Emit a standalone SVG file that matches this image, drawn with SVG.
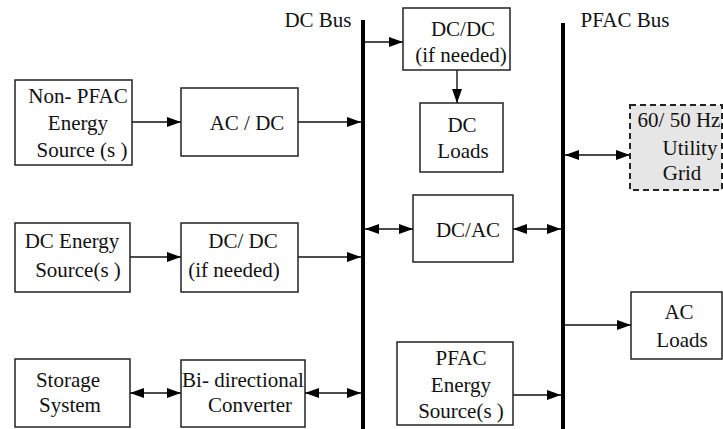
<svg xmlns="http://www.w3.org/2000/svg" width="723" height="429" viewBox="0 0 723 429">
<style>
.box{fill:#fff;stroke:#222;stroke-width:1.5}
.grid{fill:#e6e6e6;stroke:#222;stroke-width:2;stroke-dasharray:6 4}
.bus{stroke:#000;stroke-width:4;fill:none}
.c{stroke:#111;stroke-width:1.4;fill:none}
text{font-family:"Liberation Serif","DejaVu Serif",serif;font-size:21px;fill:#111;text-anchor:middle}
</style>
<defs>
<marker id="ah" markerWidth="14" markerHeight="11" refX="14" refY="5.5" orient="auto-start-reverse" markerUnits="userSpaceOnUse">
<path d="M0,0.5 L14,5.5 L0,10.5 z" fill="#000"/>
</marker>
</defs>
<g id="buses">
<line class="bus" x1="363" y1="20" x2="363" y2="429"/>
<line class="bus" x1="563" y1="23" x2="563" y2="429"/>
<text x="318" y="27">DC Bus</text>
<text x="625" y="27">PFAC Bus</text>
</g>
<g id="connectors">
<path class="c" d="M132,122 H181" marker-end="url(#ah)"/>
<path class="c" d="M298,122 H361" marker-end="url(#ah)"/>
<path class="c" d="M365,42 H403" marker-end="url(#ah)"/>
<path class="c" d="M457,70 V103" marker-end="url(#ah)"/>
<path class="c" d="M565,155 H630" marker-start="url(#ah)" marker-end="url(#ah)"/>
<path class="c" d="M365,229 H413" marker-start="url(#ah)" marker-end="url(#ah)"/>
<path class="c" d="M513,229 H561" marker-start="url(#ah)" marker-end="url(#ah)"/>
<path class="c" d="M565,325 H631" marker-end="url(#ah)"/>
<path class="c" d="M513,395 H561" marker-end="url(#ah)"/>
<path class="c" d="M130,257 H181" marker-end="url(#ah)"/>
<path class="c" d="M298,257 H361" marker-end="url(#ah)"/>
<path class="c" d="M130,393 H181" marker-start="url(#ah)" marker-end="url(#ah)"/>
<path class="c" d="M305,393 H361" marker-start="url(#ah)" marker-end="url(#ah)"/>
</g>
<g id="nonpfac">
<rect class="box" x="15" y="80" width="117" height="85"/>
<text x="78" y="103">Non- PFAC</text>
<text x="78" y="130">Energy</text>
<text x="82" y="157">Source (s )</text>
</g>
<g id="acdc">
<rect class="box" x="181" y="88" width="117" height="68"/>
<text x="247" y="130">AC / DC</text>
</g>
<g id="dcdc-top">
<rect class="box" x="403" y="8" width="107" height="62"/>
<text x="463" y="36">DC/DC</text>
<text x="461" y="62">(if needed)</text>
</g>
<g id="dcloads">
<rect class="box" x="420" y="103" width="83" height="69"/>
<text x="462" y="132">DC</text>
<text x="463" y="158">Loads</text>
</g>
<g id="utility">
<rect class="grid" x="630" y="105" width="92" height="85"/>
<text x="679" y="127">60/ 50 Hz</text>
<text x="690" y="155">Utility</text>
<text x="682" y="180">Grid</text>
</g>
<g id="dcac">
<rect class="box" x="413" y="195" width="100" height="67"/>
<text x="468" y="237">DC/AC</text>
</g>
<g id="acloads">
<rect class="box" x="631" y="292" width="91" height="67"/>
<text x="679" y="319">AC</text>
<text x="682" y="347">Loads</text>
</g>
<g id="pfacsource">
<rect class="box" x="397" y="342" width="116" height="83"/>
<text x="461" y="365">PFAC</text>
<text x="461" y="392">Energy</text>
<text x="461" y="418">Source(s )</text>
</g>
<g id="dcsource">
<rect class="box" x="15" y="223" width="115" height="69"/>
<text x="72" y="248">DC Energy</text>
<text x="78" y="277">Source(s )</text>
</g>
<g id="dcdc-left">
<rect class="box" x="181" y="223" width="117" height="69"/>
<text x="243" y="248">DC/ DC</text>
<text x="234" y="277">(if needed)</text>
</g>
<g id="storage">
<rect class="box" x="15" y="359" width="115" height="68"/>
<text x="68" y="387">Storage</text>
<text x="70" y="412">System</text>
</g>
<g id="bidir">
<rect class="box" x="181" y="360" width="124" height="67"/>
<text x="243" y="387">Bi- directional</text>
<text x="250" y="412">Converter</text>
</g>
</svg>
